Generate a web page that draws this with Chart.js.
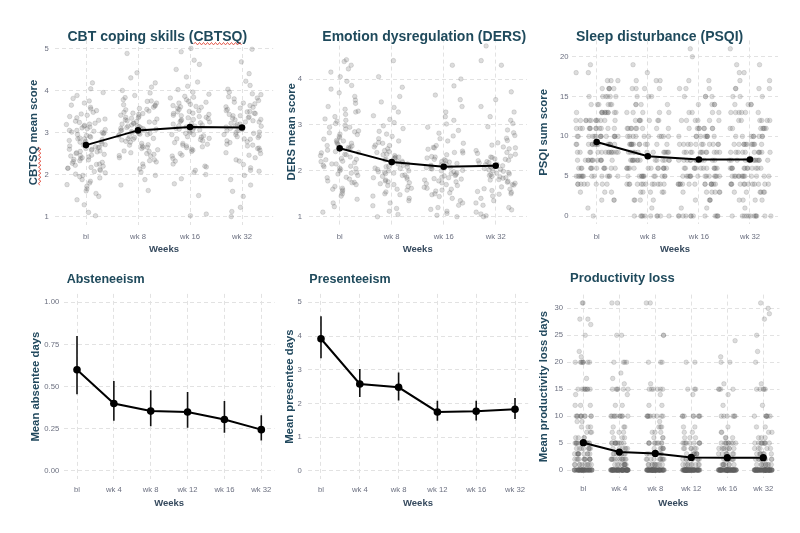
<!DOCTYPE html>
<html><head><meta charset="utf-8">
<script src="https://cdn.jsdelivr.net/npm/chart.js@4.4.1/dist/chart.umd.min.js"></script>
<style>
html,body{margin:0;padding:0;background:#fff;}
#wrap{position:relative;width:800px;height:533px;overflow:hidden;background:#fff;}
canvas{position:absolute;}
</style></head><body><div id="wrap">
<canvas id="c1" width="280" height="262" style="left:0px;top:0px;width:280px;height:262px"></canvas>
<canvas id="c2" width="272" height="262" style="left:268px;top:0px;width:272px;height:262px"></canvas>
<canvas id="c3" width="270" height="262" style="left:530px;top:0px;width:270px;height:262px"></canvas>
<canvas id="c4" width="285" height="271" style="left:0px;top:262px;width:285px;height:271px"></canvas>
<canvas id="c5" width="270" height="271" style="left:270px;top:262px;width:270px;height:271px"></canvas>
<canvas id="c6" width="265" height="271" style="left:535px;top:262px;width:265px;height:271px"></canvas>
</div>
<script>
// ---------- categories ----------
const weeks4 = ['bl', 'wk 8', 'wk 16', 'wk 32'];
const weeks6 = ['bl', 'wk 4', 'wk 8', 'wk 12', 'wk 16', 'wk 32'];

// ---------- means / CIs ----------
const cbtsqMean = [2.70, 3.05, 3.13, 3.12];
const dersMean = [2.49, 2.19, 2.09, 2.11];
const psqiMean = [9.3, 7.5, 7.1, 7.1];
const absMean = [0.60, 0.40, 0.355, 0.35, 0.305, 0.245];
const absLo = [0.455, 0.298, 0.265, 0.257, 0.227, 0.18];
const absHi = [0.80, 0.534, 0.478, 0.468, 0.415, 0.33];
const presMean = [3.92, 2.58, 2.48, 1.75, 1.77, 1.83];
const presLo = [3.34, 2.19, 2.09, 1.49, 1.50, 1.54];
const presHi = [4.59, 3.02, 2.92, 2.08, 2.08, 2.16];
const prodMean = [5.07, 3.34, 3.09, 2.35, 2.29, 2.29];

// ---------- individual scores (CBTSQ) ----------
const cbtsqBl = [1.02,1.10,1.28,1.40,1.48,1.55,1.61,1.66,1.72,1.76,1.80,1.84,1.88,1.92,1.95,1.98,2.01,2.04,2.07,2.10,2.12,2.15,2.17,2.20,2.22,2.24,2.27,2.29,2.31,2.33,2.35,2.38,2.40,2.42,2.44,2.46,2.48,2.50,2.52,2.54,2.56,2.58,2.60,2.62,2.64,2.66,2.68,2.70,2.71,2.73,2.75,2.77,2.79,2.81,2.83,2.85,2.87,2.89,2.91,2.93,2.95,2.97,2.99,3.01,3.03,3.05,3.07,3.09,3.11,3.13,3.15,3.17,3.19,3.22,3.24,3.27,3.29,3.32,3.35,3.38,3.41,3.44,3.48,3.52,3.56,3.60,3.65,3.70,3.75,3.81,3.88,3.95,4.04,4.18,2.25,2.45,2.65,2.85,3.05,3.20,2.15,2.55,2.78,2.36,3.00,2.60];
const cbtsqWk8 = [1.62,1.75,1.88,1.98,2.06,2.13,2.19,2.25,2.30,2.35,2.40,2.44,2.48,2.52,2.56,2.59,2.62,2.65,2.68,2.71,2.74,2.77,2.79,2.82,2.84,2.86,2.88,2.90,2.92,2.94,2.96,2.98,3.00,3.02,3.04,3.06,3.08,3.10,3.12,3.14,3.16,3.18,3.20,3.22,3.24,3.26,3.28,3.30,3.32,3.34,3.36,3.38,3.41,3.43,3.46,3.48,3.51,3.54,3.57,3.60,3.63,3.66,3.70,3.74,3.78,3.83,3.88,3.94,4.00,4.08,4.18,4.30,4.42,4.88,2.70,2.85,2.95,3.05,3.15,3.25,3.35,3.45,3.55,2.45,2.55,2.65,3.65,3.75,2.33,2.50,2.98,3.11,3.22,3.09];
const cbtsqWk16 = [1.02,1.06,1.50,1.78,1.90,2.00,2.10,2.18,2.25,2.32,2.38,2.44,2.50,2.55,2.60,2.64,2.68,2.72,2.76,2.80,2.83,2.86,2.89,2.92,2.95,2.98,3.00,3.03,3.06,3.08,3.11,3.13,3.16,3.18,3.21,3.23,3.26,3.28,3.31,3.33,3.36,3.38,3.41,3.43,3.46,3.49,3.52,3.55,3.58,3.61,3.64,3.67,3.70,3.74,3.78,3.82,3.86,3.91,3.96,4.02,4.10,4.20,4.32,4.50,4.62,4.72,4.92,5.00,2.70,2.90,3.10,3.20,3.30,3.40,3.50,3.60,2.85,2.95,3.05,3.15,3.25,3.35,3.45,2.58,2.66,3.72,3.84,2.46,2.74,3.62,2.20,2.05];
const cbtsqWk32 = [1.00,1.12,1.22,1.48,1.60,1.75,1.88,1.98,2.08,2.16,2.24,2.32,2.40,2.46,2.52,2.58,2.63,2.68,2.72,2.76,2.80,2.84,2.88,2.92,2.95,2.98,3.01,3.04,3.07,3.10,3.13,3.16,3.19,3.22,3.25,3.28,3.31,3.34,3.37,3.40,3.43,3.46,3.49,3.52,3.55,3.58,3.61,3.64,3.68,3.72,3.76,3.80,3.85,3.90,3.96,4.03,4.12,4.22,4.40,4.68,4.98,2.70,2.90,3.00,3.10,3.20,3.30,3.40,3.50,3.60,2.85,2.95,3.05,3.15,3.25,3.35,3.45,2.62,2.78,3.70,3.82,2.50,2.35,3.92,2.10];

// ---------- individual scores (DERS) ----------
const dersBl = [1.10,1.22,1.30,1.38,1.45,1.50,1.55,1.58,1.62,1.66,1.70,1.74,1.78,1.82,1.86,1.90,1.93,1.96,2.00,2.03,2.06,2.09,2.12,2.15,2.18,2.21,2.24,2.27,2.30,2.33,2.36,2.39,2.42,2.45,2.48,2.51,2.54,2.57,2.60,2.63,2.66,2.69,2.72,2.75,2.79,2.83,2.87,2.91,2.95,2.99,3.03,3.08,3.13,3.18,3.23,3.28,3.34,3.40,3.47,3.54,3.62,3.70,3.78,3.86,3.95,4.05,4.15,4.22,4.30,4.38,4.42,1.95,2.05,2.15,2.25,2.35,2.55,2.65,2.85,2.95,1.75,1.85,2.20,2.40,2.60,2.80,3.10,3.30,1.60,2.50,2.10];
const dersWk8 = [1.00,1.05,1.12,1.18,1.24,1.30,1.35,1.40,1.45,1.50,1.54,1.58,1.62,1.66,1.70,1.74,1.78,1.82,1.85,1.88,1.91,1.94,1.97,2.00,2.03,2.06,2.09,2.12,2.15,2.18,2.21,2.24,2.27,2.30,2.33,2.36,2.40,2.44,2.48,2.52,2.56,2.60,2.65,2.70,2.75,2.80,2.86,2.92,2.98,3.05,3.12,3.20,3.28,3.38,3.50,3.62,3.82,4.05,4.40,1.60,1.72,1.80,1.90,2.00,2.10,2.20,2.30,1.95,2.05,2.15,2.25,2.35,1.68,1.86,2.42,2.55,2.62,1.48,1.98,2.08,2.18,1.76,2.28];
const dersWk16 = [1.00,1.03,1.07,1.12,1.16,1.20,1.25,1.30,1.35,1.40,1.44,1.48,1.52,1.56,1.60,1.64,1.68,1.72,1.76,1.80,1.83,1.86,1.89,1.92,1.95,1.98,2.01,2.04,2.07,2.10,2.13,2.16,2.19,2.22,2.25,2.28,2.31,2.35,2.39,2.43,2.47,2.51,2.55,2.60,2.65,2.70,2.76,2.82,2.88,2.95,3.02,3.10,3.18,3.28,3.40,3.55,3.65,3.85,4.00,4.30,1.50,1.62,1.70,1.78,1.85,1.90,2.00,2.08,2.15,2.20,2.30,1.94,2.05,2.12,2.24,1.58,1.74,2.40,2.50,1.82];
const dersWk32 = [1.00,1.02,1.06,1.10,1.15,1.20,1.25,1.30,1.35,1.40,1.45,1.49,1.53,1.57,1.61,1.65,1.69,1.73,1.77,1.81,1.84,1.87,1.90,1.93,1.96,1.99,2.02,2.05,2.08,2.11,2.14,2.17,2.20,2.23,2.26,2.29,2.32,2.36,2.40,2.44,2.48,2.52,2.56,2.61,2.66,2.71,2.77,2.83,2.89,2.96,3.03,3.10,3.18,3.28,3.40,3.55,3.72,4.30,4.40,4.72,1.50,1.60,1.70,1.80,1.88,1.95,2.00,2.10,2.18,2.25,2.30,1.92,2.03,2.13,2.22,1.55,1.75,2.38,2.50,1.85];

// ---------- integer scores as [score, count] (PSQI) ----------
const psqiBl = [[0,1],[1,1],[2,3],[3,3],[4,8],[5,14],[6,12],[7,12],[8,14],[9,14],[10,14],[11,12],[12,12],[13,11],[14,6],[15,6],[16,5],[17,3],[18,2],[19,1]];
const psqiWk8 = [[0,10],[1,1],[2,4],[3,5],[4,12],[5,12],[6,13],[7,14],[8,12],[9,12],[10,10],[11,9],[12,7],[13,5],[14,4],[15,3],[16,4],[17,3],[18,1],[19,1]];
const psqiWk16 = [[0,12],[1,2],[2,4],[3,6],[4,14],[5,14],[6,12],[7,12],[8,12],[9,11],[10,9],[11,8],[12,6],[13,4],[14,4],[15,4],[16,3],[17,2],[20,1],[21,1]];
const psqiWk32 = [[0,12],[1,1],[2,4],[3,6],[4,12],[5,13],[6,12],[7,12],[8,11],[9,11],[10,8],[11,7],[12,6],[13,6],[14,4],[15,3],[16,4],[17,2],[18,2],[19,2],[21,1]];

// ---------- integer scores as [days, count] (productivity loss) ----------
const prodBl = [[0,50],[1,10],[2,12],[3,10],[4,8],[5,14],[6,4],[7,3],[8,3],[9,2],[10,10],[12,3],[14,1],[15,8],[17,1],[20,8],[21,1],[22,1],[25,1],[27,1],[28,2],[31,2]];
const prodWk4 = [[0,70],[1,10],[2,12],[3,8],[4,6],[5,10],[6,3],[7,3],[8,3],[10,10],[12,2],[14,1],[15,6],[16,1],[17,1],[18,1],[20,4],[25,2],[31,2]];
const prodWk8 = [[0,70],[1,10],[2,10],[3,7],[4,6],[5,9],[6,3],[7,3],[8,3],[9,1],[10,9],[12,2],[14,1],[15,6],[16,1],[20,3],[25,2],[31,2]];
const prodWk12 = [[0,75],[1,9],[2,9],[3,7],[4,6],[5,9],[6,3],[7,2],[8,2],[10,8],[14,1],[15,3],[20,2]];
const prodWk16 = [[0,75],[1,8],[2,9],[3,7],[4,8],[5,9],[6,3],[7,2],[8,1],[10,6],[12,1],[14,1],[15,4],[16,1],[20,2],[21,1],[24,1]];
const prodWk32 = [[0,76],[1,9],[2,9],[3,7],[4,5],[5,9],[6,3],[7,2],[8,2],[10,6],[12,1],[15,5],[16,1],[20,1],[22,1],[25,1],[28,1],[29,1],[30,1],[31,1]];

// ---------- tick values ----------
const cbtsqTicks = [1, 2, 3, 4, 5];
const dersTicks = [1, 2, 3, 4];
const psqiTicks = [0, 5, 10, 15, 20];
const absTicks = [0, 0.25, 0.5, 0.75, 1.0];
const presTicks = [0, 1, 2, 3, 4, 5];
const prodTicks = [0, 5, 10, 15, 20, 25, 30];

// ---------- styling ----------
const FF = '"Liberation Sans", Arial, Helvetica, sans-serif';
const C_TITLE = '#1f4a5c';
const C_YT = '#22495e';
const C_XT = '#364a5e';
const C_TICK = '#6c7080';
const C_GRID = '#e2e2e2';
const PT_FILL = 'rgba(95,95,95,0.22)';

function squiggle(ctx, x0, x1, y, vertical) {
  // small red spell-check wave under a word
  ctx.save();
  ctx.strokeStyle = '#e0483a';
  ctx.lineWidth = 0.9;
  ctx.beginPath();
  const step = 2;
  let up = true;
  if (!vertical) {
    ctx.moveTo(x0, y);
    for (let x = x0 + step; x <= x1; x += step) { ctx.lineTo(x, y + (up ? -1.2 : 1.2)); up = !up; }
  } else {
    ctx.moveTo(y, x0);
    for (let t = x0 - step; t >= x1; t -= step) { ctx.lineTo(y + (up ? -1.2 : 1.2), t); up = !up; }
  }
  ctx.stroke();
  ctx.restore();
}

const panelTitle = {
  id: 'panelTitle',
  afterDraw(chart, args, o) {
    const ctx = chart.ctx;
    ctx.save();
    ctx.font = 'bold ' + o.size + 'px ' + FF;
    ctx.fillStyle = C_TITLE;
    ctx.textAlign = 'left';
    ctx.textBaseline = 'alphabetic';
    ctx.fillText(o.text, o.x, o.y);
    if (o.mark) {
      const i = o.text.indexOf(o.mark);
      const xs = o.x + ctx.measureText(o.text.slice(0, i)).width;
      const xe = xs + ctx.measureText(o.mark).width;
      squiggle(ctx, xs, xe, o.y + 3, false);
      const ys = chart.scales.y;
      const t = ys.options.title;
      const fsz = t.font.size;
      ctx.font = 'bold ' + fsz + 'px ' + FF;
      const full = ctx.measureText(t.text).width;
      const w = ctx.measureText(o.mark).width;
      const cy = (ys.top + ys.bottom) / 2;
      const tx = ys.left + fsz * 1.2 / 2 + t.padding.top;
      squiggle(ctx, cy + full / 2, cy + full / 2 - w, tx + fsz * 0.55, true);
    }
    ctx.restore();
  }
};
Chart.register(panelTitle);

function jit(i, seed) {
  const s = Math.sin((i + 1) * 12.9898 + seed * 78.233) * 43758.5453;
  return s - Math.floor(s);
}
function cloudValues(groups, w, seed) {
  const pts = []; let k = 0;
  groups.forEach((vals, g) => vals.forEach(v => { pts.push({x: g + 1 + (jit(k, seed) - 0.5) * 2 * w, y: v}); k++; }));
  return pts;
}
function cloudCounts(groups, w, seed) {
  const pts = []; let k = 0;
  groups.forEach((pairs, g) => pairs.forEach(([v, c]) => {
    for (let j = 0; j < c; j++) { pts.push({x: g + 1 + (jit(k, seed) - 0.5) * 2 * w, y: v}); k++; }
  }));
  return pts;
}
function meanSet(means, r) {
  return {data: means.map((m, i) => ({x: i + 1, y: m})), showLine: true, borderColor: '#000', backgroundColor: '#000',
    borderWidth: 2, pointRadius: r, pointBorderWidth: 0, pointHoverRadius: r, tension: 0};
}
function errSets(lo, hi) {
  return lo.map((l, i) => ({data: [{x: i + 1, y: l}, {x: i + 1, y: hi[i]}], showLine: true, borderColor: '#111',
    borderWidth: 1.6, pointRadius: 0, pointHoverRadius: 0}));
}
function cloudSet(pts) {
  return {data: pts, showLine: false, pointRadius: 2.3, pointHoverRadius: 2.3, backgroundColor: PT_FILL,
    borderColor: PT_FILL, borderWidth: 0.8};
}

function makePanel(id, p, datasets) {
  new Chart(document.getElementById(id), {
    type: 'scatter',
    data: {datasets},
    options: {
      responsive: false, animation: false, devicePixelRatio: 1, events: [],
      layout: {padding: {left: 0, top: p.pt, right: p.pr, bottom: 0}},
      plugins: {legend: {display: false}, tooltip: {enabled: false},
        panelTitle: {text: p.title, x: p.tx, y: p.ty, size: p.tsize, mark: p.mark || null}},
      scales: {
        x: {
          type: 'linear', min: p.xmin, max: p.xmax,
          afterBuildTicks: s => { s.ticks = p.labels.map((_, i) => ({value: i + 1})); },
          afterFit: s => { s.height = p.xh; },
          ticks: {callback: v => p.labels[Math.round(v) - 1], color: C_TICK, font: {family: FF, size: 7.7},
            padding: p.xtp, maxRotation: 0, autoSkip: false},
          grid: {color: C_GRID, lineWidth: 1, drawTicks: false},
          border: {display: false, dash: [4, 3]},
          title: {display: true, text: 'Weeks', color: C_XT, font: {family: FF, size: 9.5, weight: 'bold'},
            padding: {top: 0, bottom: p.xttp}}
        },
        y: {
          type: 'linear', min: p.ymin, max: p.ymax,
          afterBuildTicks: s => { s.ticks = p.yticks.map(v => ({value: v})); },
          afterFit: s => { s.width = p.yw; },
          ticks: {callback: v => p.yfmt(v), color: C_TICK, font: {family: FF, size: 7.7}, padding: p.ytp, autoSkip: false},
          grid: {color: C_GRID, lineWidth: 1, drawTicks: false},
          border: {display: false, dash: [4, 3]},
          title: {display: true, text: p.ytitle, color: C_YT, font: {family: FF, size: 11.3, weight: 'bold'},
            padding: {top: p.yttp, bottom: 0}}
        }
      }
    }
  });
}
const fInt = v => String(v);
const f2 = v => v.toFixed(2);

// Panel 1: CBTSQ
makePanel('c1', {title: 'CBT coping skills (CBTSQ)', mark: 'CBTSQ', tx: 67.5, ty: 40.7, tsize: 14,
  labels: weeks4, xmin: 0.4, xmax: 4.6, ymin: 0.8, ymax: 5.2, yticks: cbtsqTicks, yfmt: fInt,
  ytitle: 'CBTSQ mean score', pt: 40, pr: 6.8, yw: 54.8, xh: 37, ytp: 6, yttp: 26.7, xtp: 7.1, xttp: 7.0},
  [meanSet(cbtsqMean, 3.3), cloudSet(cloudValues([cbtsqBl, cbtsqWk8, cbtsqWk16, cbtsqWk32], 0.38, 1))]);

// Panel 2: DERS
makePanel('c2', {title: 'Emotion dysregulation (DERS)', tx: 54.3, ty: 40.7, tsize: 14,
  labels: weeks4, xmin: 0.4, xmax: 4.6, ymin: 0.82, ymax: 4.88, yticks: dersTicks, yfmt: fInt,
  ytitle: 'DERS mean score', pt: 38.6, pr: 13.1, yw: 40.5, xh: 37, ytp: 6.5, yttp: 17.2, xtp: 7.1, xttp: 7.0},
  [meanSet(dersMean, 3.3), cloudSet(cloudValues([dersBl, dersWk8, dersWk16, dersWk32], 0.38, 2))]);

// Panel 3: PSQI
makePanel('c3', {title: 'Sleep disturbance (PSQI)', tx: 46, ty: 40.7, tsize: 14,
  labels: weeks4, xmin: 0.517, xmax: 4.548, ymin: -1.05, ymax: 22.05, yticks: psqiTicks, yfmt: fInt,
  ytitle: 'PSQI sum score', pt: 40.4, pr: 22, yw: 42, xh: 37.6, ytp: 3.5, yttp: 7.2, xtp: 7.7, xttp: 7.0},
  [meanSet(psqiMean, 3.3), cloudSet(cloudCounts([psqiBl, psqiWk8, psqiWk16, psqiWk32], 0.42, 3))]);

// Panel 4: Absenteeism
makePanel('c4', {title: 'Absteneeism', tx: 66.7, ty: 21.3, tsize: 12.5,
  labels: weeks6, xmin: 0.639, xmax: 6.361, ymin: -0.05, ymax: 1.05, yticks: absTicks, yfmt: f2,
  ytitle: 'Mean absentee days', pt: 31.9, pr: 10.4, yw: 63.7, xh: 53.6, ytp: 4.4, yttp: 29.2, xtp: 6, xttp: 24.3},
  [meanSet(absMean, 3.8), ...errSets(absLo, absHi)]);

// Panel 5: Presenteeism
makePanel('c5', {title: 'Presenteeism', tx: 39.3, ty: 21.3, tsize: 12.5,
  labels: weeks6, xmin: 0.66, xmax: 6.34, ymin: -0.25, ymax: 5.25, yticks: presTicks, yfmt: fInt,
  ytitle: 'Mean presentee days', pt: 31.9, pr: 11.8, yw: 37.8, xh: 53.6, ytp: 6.1, yttp: 13.2, xtp: 6, xttp: 24.3},
  [meanSet(presMean, 3.8), ...errSets(presLo, presHi)]);

// Panel 6: Productivity loss
makePanel('c6', {title: 'Productivity loss', tx: 35, ty: 19.7, tsize: 13,
  labels: weeks6, xmin: 0.55, xmax: 6.45, ymin: -1.55, ymax: 32.55, yticks: prodTicks, yfmt: fInt,
  ytitle: 'Mean productivity loss days', pt: 32.6, pr: 20.5, yw: 32.1, xh: 54.6, ytp: 4.1, yttp: 1.9, xtp: 6, xttp: 24.3},
  [meanSet(prodMean, 3.6), cloudSet(cloudCounts([prodBl, prodWk4, prodWk8, prodWk12, prodWk16, prodWk32], 0.25, 4))]);
</script>
</body></html>
